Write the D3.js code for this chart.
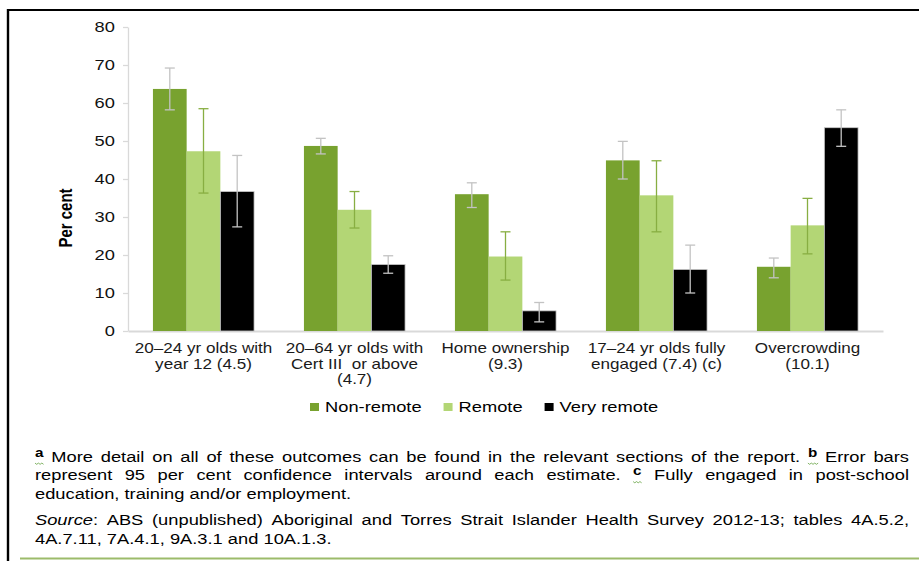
<!DOCTYPE html>
<html>
<head>
<meta charset="utf-8">
<script src="https://cdn.jsdelivr.net/npm/d3@7"></script>
<style>
    body { margin: 0; background: #fff; }
    svg { display: block; font-family: "Liberation Sans", Arial, sans-serif; }
</style>
</head>
<body>
<div id="chart"></div>
<script>
// ---- data ----
const categories = [
    ["20–24 yr olds with", "year 12 (4.5)"],
    ["20–64 yr olds with", "Cert III  or above", "(4.7)"],
    ["Home ownership", "(9.3)"],
    ["17–24 yr olds fully", "engaged (7.4) (c)"],
    ["Overcrowding", "(10.1)"]
];
const series = ["Non-remote", "Remote", "Very remote"];
const nonRemote = [63.7, 48.7, 36.0, 44.9, 16.9];
const remote = [47.3, 31.9, 19.6, 35.7, 27.8];
const veryRemote = [36.7, 17.5, 5.3, 16.2, 53.5];
const nonRemoteLo = [58.2, 46.6, 32.5, 40.0, 14.0];
const nonRemoteHi = [69.2, 50.7, 39.0, 49.9, 19.2];
const remoteLo = [36.3, 27.1, 13.4, 26.1, 20.3];
const remoteHi = [58.5, 36.7, 26.1, 44.8, 34.9];
const veryRemoteLo = [27.4, 15.2, 2.4, 10.0, 48.6];
const veryRemoteHi = [46.2, 19.8, 7.5, 22.6, 58.2];
const yTicks = [0, 10, 20, 30, 40, 50, 60, 70, 80];
const yLabel = "Per cent";

const noteLines = [
    {text: "^a More detail on all of these outcomes can be found in the relevant sections of the report. ^b Error bars", justify: true},
    {text: "represent 95 per cent confidence intervals around each estimate. ^c Fully engaged in post-school", justify: true},
    {text: "education, training and/or employment.", justify: false},
    {text: "*Source*: ABS (unpublished) Aboriginal and Torres Strait Islander Health Survey 2012-13; tables 4A.5.2,", justify: true},
    {text: "4A.7.11, 7A.4.1, 9A.3.1 and 10A.1.3.", justify: false}
];

const colors = {"Non-remote": "#78a22f", "Remote": "#b3d675", "Very remote": "#000000"};
const errColors = {"Non-remote": "#c3c3c3", "Remote": "#88ae42", "Very remote": "#c3c3c3"};

// table built from the arrays above
const values = {"Non-remote": nonRemote, "Remote": remote, "Very remote": veryRemote};
const lows = {"Non-remote": nonRemoteLo, "Remote": remoteLo, "Very remote": veryRemoteLo};
const highs = {"Non-remote": nonRemoteHi, "Remote": remoteHi, "Very remote": veryRemoteHi};
const rows = [];
categories.forEach((c, i) => {
    series.forEach(s => {
        rows.push({cat: i, series: s, value: values[s][i], lo: lows[s][i], hi: highs[s][i]});
    });
});

// the source picture is stretched sideways, so all text gets the same stretch
const sx = 1.22;

const width = 919, height = 561;
const svg = d3.select("#chart").append("svg")
    .attr("width", width)
    .attr("height", height);

// frame
svg.append("line")
    .attr("x1", 7).attr("x2", width).attr("y1", 10).attr("y2", 10)
    .attr("stroke", "#000").attr("stroke-width", 1.8);
svg.append("line")
    .attr("x1", 8).attr("x2", 8).attr("y1", 9).attr("y2", height)
    .attr("stroke", "#000").attr("stroke-width", 2.4);
svg.append("line")
    .attr("x1", 20).attr("x2", width).attr("y1", 558.5).attr("y2", 558.5)
    .attr("stroke", "#9cbb6a").attr("stroke-width", 2);

// scales
const x0 = d3.scaleBand()
    .domain(d3.range(categories.length))
    .range([128, 883]);
const x1 = d3.scaleBand()
    .domain(series)
    .range([0, x0.bandwidth()])
    .paddingOuter(0.74);
const y = d3.scaleLinear()
    .domain([0, 80])
    .range([331, 27]);

// y axis
const yAxis = svg.append("g")
    .attr("class", "axis y-axis")
    .attr("transform", "translate(128,0)")
    .call(d3.axisLeft(y).tickValues(yTicks).tickSize(5).tickSizeOuter(0).tickPadding(5.7));
yAxis.select(".domain").attr("stroke", "#d9d9d9").attr("stroke-width", 1.3);
yAxis.selectAll(".tick line").attr("stroke", "#d9d9d9").attr("stroke-width", 1.3);
yAxis.selectAll(".tick text")
    .attr("font-size", 15)
    .attr("font-family", "Liberation Sans, Arial, sans-serif")
    .attr("fill", "#111")
    .attr("transform", `scale(${sx},1)`);

// x axis
const xAxis = svg.append("g")
    .attr("class", "axis x-axis")
    .attr("transform", "translate(0,331)")
    .call(d3.axisBottom(x0).tickSize(0).tickSizeOuter(0));
xAxis.select(".domain").attr("stroke", "#d9d9d9").attr("stroke-width", 2);
xAxis.selectAll(".tick text")
    .attr("y", null)
    .attr("dy", null)
    .attr("font-size", 14)
    .attr("font-family", "Liberation Sans, Arial, sans-serif")
    .attr("fill", "#1a1a1a")
    .attr("transform", `translate(0,22) scale(${sx},1)`)
    .text(null)
    .each(function (i) {
        let t = d3.select(this);
        categories[i].forEach((line, k) => {
            t.append("tspan").attr("x", 0).attr("y", k * 15.6).style("white-space", "pre").text(line);
        });
    });

// y label
svg.append("text")
    .attr("transform", `translate(72,218) scale(${sx},1) rotate(-90)`)
    .attr("text-anchor", "middle")
    .attr("font-size", 15)
    .attr("font-weight", "bold")
    .attr("fill", "#000")
    .text(yLabel);

// bars
const groups = svg.append("g").attr("class", "bars")
    .selectAll("g")
    .data(d3.groups(rows, d => d.cat))
    .enter().append("g")
    .attr("transform", d => `translate(${x0(d[0])},0)`);

groups.selectAll("rect")
    .data(d => d[1])
    .enter().append("rect")
    .attr("x", d => x1(d.series))
    .attr("y", d => y(d.value))
    .attr("width", x1.bandwidth())
    .attr("height", d => y(0) - y(d.value))
    .attr("fill", d => colors[d.series])
    .attr("stroke", d => d.series === "Very remote" ? "#c8c8c8" : "none")
    .attr("stroke-width", 0.8);

// error bars
const capW = 5;
const err = groups.selectAll(".err")
    .data(d => d[1])
    .enter().append("g")
    .attr("class", "err")
    .attr("stroke", d => errColors[d.series])
    .attr("stroke-width", 1.3);
err.append("line")
    .attr("x1", d => x1(d.series) + x1.bandwidth() / 2)
    .attr("x2", d => x1(d.series) + x1.bandwidth() / 2)
    .attr("y1", d => y(d.lo))
    .attr("y2", d => y(d.hi));
err.append("line")
    .attr("x1", d => x1(d.series) + x1.bandwidth() / 2 - capW)
    .attr("x2", d => x1(d.series) + x1.bandwidth() / 2 + capW)
    .attr("y1", d => y(d.hi))
    .attr("y2", d => y(d.hi));
err.append("line")
    .attr("x1", d => x1(d.series) + x1.bandwidth() / 2 - capW)
    .attr("x2", d => x1(d.series) + x1.bandwidth() / 2 + capW)
    .attr("y1", d => y(d.lo))
    .attr("y2", d => y(d.lo));

// legend
const legend = svg.append("g")
    .attr("class", "legend")
    .attr("transform", "translate(310,403)");
let lx = 0;
series.forEach(s => {
    legend.append("rect")
        .attr("x", lx).attr("y", 0)
        .attr("width", 9).attr("height", 8)
        .attr("fill", colors[s]);
    let t = legend.append("text")
        .attr("transform", `translate(${lx + 15},9) scale(${sx},1)`)
        .attr("font-size", 15)
        .attr("fill", "#000")
        .text(s);
    lx += 15 + t.node().getComputedTextLength() * sx + 22;
});

// notes, justified like the source text
const noteLeft = 35, noteRight = 909;
const noteBase = [462, 480.5, 499.5, 525.5, 544];
const notes = svg.append("g")
    .attr("class", "notes")
    .attr("transform", `translate(${noteLeft},0) scale(${sx},1)`);
const availW = (noteRight - noteLeft) / sx;
const spaceW = 15 * 0.278;

noteLines.forEach((line, li) => {
    let base = noteBase[li];
    let tokens = line.text.split(" ").map(w => {
        let t;
        if (w.startsWith("^")) {
            t = notes.append("text")
                .attr("y", base - 5)
                .attr("font-size", 12.5)
                .attr("font-weight", "bold")
                .text(w.slice(1));
            t.sup = true;
        } else {
            t = notes.append("text").attr("y", base).attr("font-size", 15);
            let m = w.match(/^\*(.+)\*(.*)$/);
            if (m) {
                t.append("tspan").attr("font-style", "italic").text(m[1]);
                t.append("tspan").text(m[2]);
            } else {
                t.text(w);
            }
        }
        t.attr("fill", "#000");
        t.w = t.node().getComputedTextLength();
        return t;
    });
    let total = d3.sum(tokens, t => t.w);
    let gap = line.justify ? (availW - total) / (tokens.length - 1) : spaceW;
    let cx = 0;
    tokens.forEach(t => {
        t.attr("x", cx);
        if (t.sup) {
            // spell-check squiggle under the note letters
            let pts = d3.range(0, t.w + 1, 1.4).map((px, k) => [cx + px, base + 1.3 + (k % 2 ? 1 : -0.2)]);
            notes.append("path")
                .attr("d", d3.line()(pts))
                .attr("fill", "none")
                .attr("stroke", "#5f9e3a")
                .attr("stroke-width", 0.7);
        }
        cx += t.w + gap;
    });
});
</script>
</body>
</html>
